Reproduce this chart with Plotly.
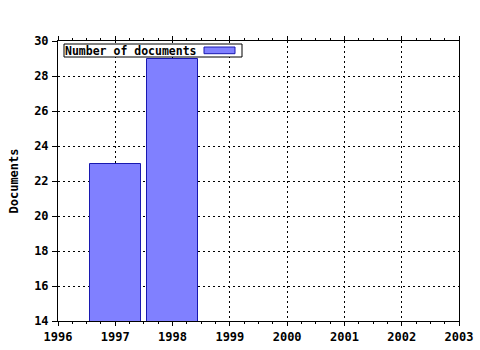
import plotly.graph_objects as go

years = [1997, 1998]
documents = [23, 29]
series_name = "Number of documents"
y_title = "Documents"

FONT = "DejaVu Sans Mono"
BAR_FILL = "#8080ff"
BAR_LINE = "#1818b0"

fig = go.Figure()
fig.add_trace(go.Bar(
    x=years, y=documents, name=series_name, width=0.9,
    marker=dict(color=BAR_FILL, line=dict(color=BAR_LINE, width=1)),
    showlegend=False,
))

axis_common = dict(
    showline=True, linecolor="black", linewidth=1, automargin=False,
    showgrid=True, gridcolor="black", gridwidth=1, griddash="2px,3px",
    zeroline=False, ticks="outside", tickcolor="black", tickwidth=1,
    tickfont=dict(family=FONT, size=12, color="black", weight="bold"),
)

fig.update_layout(
    width=480, height=350,
    margin=dict(l=58, r=21, t=41, b=29, autoexpand=False),
    paper_bgcolor="white", plot_bgcolor="white",
    xaxis=dict(range=[1996, 2003], dtick=1, tick0=1996, ticklen=4,
               mirror="ticks",
               minor=dict(dtick=0.25, ticks="outside", ticklen=2, tickcolor="black",
                          showgrid=False),
               ticklabelstandoff=1,
               **axis_common),
    yaxis=dict(range=[14, 30], dtick=2, ticklen=5, mirror=True,
               ticklabelstandoff=1,
               title=dict(text=y_title, standoff=12,
                          font=dict(family=FONT, size=12, color="black", weight="bold")),
               **axis_common),
    bargap=0,
)

# legend box (text left, swatch right)
fig.add_shape(type="rect", xref="paper", yref="paper",
              x0=6/401, x1=184/401, y0=1-16/280, y1=1-3/280,
              line=dict(color="black", width=1), fillcolor="white", layer="above")
fig.add_shape(type="rect", xref="paper", yref="paper",
              x0=146/401, x1=177/401, y0=1-12.7/280, y1=1-6/280,
              line=dict(color=BAR_LINE, width=1), fillcolor=BAR_FILL, layer="above")
fig.add_annotation(text=series_name, xref="paper", yref="paper",
                   x=6/401, y=1-9.5/280, xanchor="left", yanchor="middle",
                   showarrow=False, borderpad=0,
                   font=dict(family=FONT, size=11.5, color="black", weight="bold"))

fig.write_html("out.html")
